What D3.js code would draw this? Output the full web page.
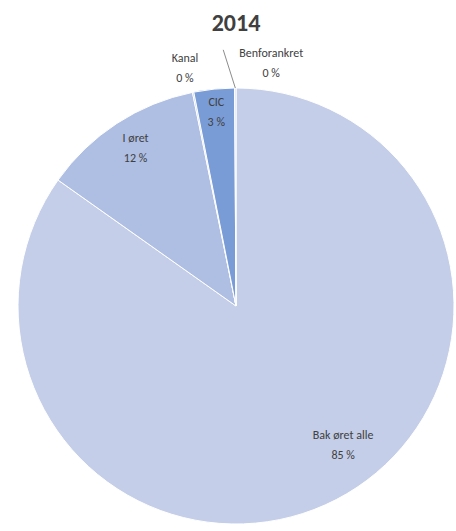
<!DOCTYPE html>
<html>
<head>
<meta charset="utf-8">
<script src="https://cdn.jsdelivr.net/npm/d3@7"></script>
<style>
  body { margin:0; background:#fff; }
  text { font-family: Carlito, Calibri, Lato, "Open Sans", sans-serif; }
</style>
</head>
<body>
<svg id="chart"></svg>
<script>
var categories = ["Bak øret alle", "I øret", "Kanal", "CIC", "Benforankret"];
var values = [84.8, 12.0, 0.1, 3.0, 0.1];
var colors = ["#c4cee8", "#afbee3", "#9fb4e0", "#7a9cd6", "#c9d2ea"];

var w = 456, h = 531;
var svg = d3.select("#chart").attr("width", w).attr("height", h);

var cx = 236, cy = 306, r = 218;

svg.append("text")
  .attr("x", cx).attr("y", 31)
  .attr("text-anchor", "middle")
  .attr("font-size", 24).attr("font-weight", "bold")
  .attr("fill", "#404040")
  .text("2014");

var data = categories.map(function(c, i){ return {name:c, value:values[i], color:colors[i]}; });

var pie = d3.pie().sort(null).value(function(d){ return d.value; });
var arc = d3.arc().innerRadius(0).outerRadius(r);
var arcs = pie(data);

var g = svg.append("g").attr("transform", "translate(" + cx + "," + cy + ")");

g.selectAll("path")
  .data(arcs)
  .enter()
  .append("path")
  .attr("d", arc)
  .attr("fill", function(d){ return d.data.color; })
  .attr("stroke", "#ffffff")
  .attr("stroke-width", 1);

// label positions, tweaked by hand per slice
var labelPos = {
  "Bak øret alle": function(d){ return d3.arc().innerRadius(r*0.8).outerRadius(r*0.8).centroid({startAngle:2.48, endAngle:2.48}); },
  "I øret": function(d){ var a = d3.arc().innerRadius(r*0.86).outerRadius(r*0.86).centroid(d); return [a[0]+2, a[1]-2]; },
  "CIC": function(d){ return d3.arc().innerRadius(r*0.9).outerRadius(r*0.9).centroid(d); },
  "Kanal": function(d){ var a = d3.arc().innerRadius(r*1.12).outerRadius(r*1.12).centroid(d); return [a[0]-3, a[1]]; },
  "Benforankret": function(d){ var a = d3.arc().innerRadius(r*1.12).outerRadius(r*1.12).centroid(d); return [a[0]+36, a[1]]; }
};

var labels = g.selectAll("g.lbl")
  .data(arcs)
  .enter()
  .append("g")
  .classed("lbl", true)
  .attr("transform", function(d){
    var p = labelPos[d.data.name](d);
    return "translate(" + p[0] + "," + p[1] + ")";
  });

labels.append("text")
  .attr("text-anchor", "middle")
  .attr("y", -5)
  .attr("font-size", 12)
  .attr("fill", "#404040")
  .text(function(d){ return d.data.name; });

labels.append("text")
  .attr("text-anchor", "middle")
  .attr("y", 15)
  .attr("font-size", 12)
  .attr("fill", "#404040")
  .text(function(d){ return Math.round(d.data.value) + " %"; });

// leader line for Benforankret
var bf = arcs[4];
var edge = d3.arc().innerRadius(r).outerRadius(r).centroid(bf);
var bp = labelPos["Benforankret"](bf);
g.append("line")
  .attr("x1", edge[0]).attr("y1", edge[1])
  .attr("x2", bp[0] - 48).attr("y2", bp[1] - 12)
  .attr("stroke", "#8c8c8c")
  .attr("stroke-width", 1);
</script>
</body>
</html>
